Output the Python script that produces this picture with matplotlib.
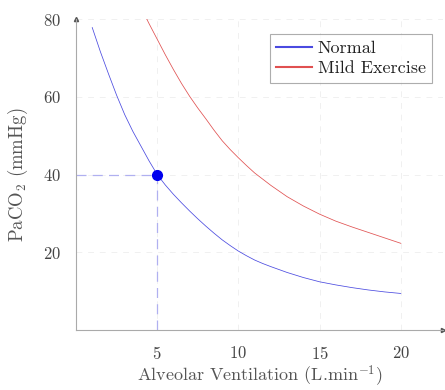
import matplotlib
matplotlib.use("Agg")
import matplotlib.pyplot as plt

plt.rcParams['font.family'] = ['cmr10', 'DejaVu Serif']
plt.rcParams['mathtext.fontset'] = 'cm'
plt.rcParams['axes.formatter.use_mathtext'] = True

# values
va_normal = [1, 1.5, 2, 2.5, 3, 3.5, 4, 4.5, 5, 5.5, 6, 6.5, 7, 7.5, 8, 8.5, 9, 9.5,
             10, 10.5, 11, 11.5, 12, 13, 14, 15, 16, 17, 18, 19, 20]
paco2_normal = [77.8, 71.6, 65.9, 60.4, 55.4, 51.1, 47.3, 43.5, 40.0, 37.3, 34.9,
                32.7, 30.6, 28.6, 26.7, 24.9, 23.2, 21.7, 20.3, 19.1, 18.0, 17.1,
                16.3, 14.8, 13.5, 12.4, 11.6, 10.9, 10.3, 9.8, 9.4]
va_exercise = [4, 4.5, 5, 5.5, 6, 6.5, 7, 7.5, 8, 8.5, 9, 9.5, 10, 10.5, 11,
               12, 13, 14, 15, 16, 17, 18, 19, 20]
paco2_exercise = [83.0, 78.8, 74.8, 70.8, 67.0, 63.4, 60.1, 57.1, 54.3, 51.4,
                  48.7, 46.4, 44.3, 42.3, 40.4, 37.2, 34.3, 31.9, 29.8, 28.0,
                  26.5, 25.1, 23.7, 22.3]
marker_va = 5
marker_paco2 = 40

fig = plt.figure(figsize=(4.45, 3.9), dpi=100)
ax = fig.add_axes([76 / 445, 60 / 390, (443 - 76) / 445, (330 - 19) / 390])

ax.plot(va_normal, paco2_normal, color='#4a4ae0', lw=0.55, label='Normal')
ax.plot(va_exercise, paco2_exercise, color='#e05050', lw=0.55, label='Mild Exercise')

ax.plot([0, marker_va], [marker_paco2, marker_paco2], color='#b0b0f0', lw=0.9, dashes=(8, 5))
ax.plot([marker_va, marker_va], [0, marker_paco2], color='#b0b0f0', lw=0.9, dashes=(8, 5))
ax.plot([marker_va], [marker_paco2], 'o', color='#0000ee', ms=7, zorder=5)

ax.set_xlim(0, 22.6)
ax.set_ylim(0, 80)
ax.set_xticks([5, 10, 15, 20])
ax.set_yticks([20, 40, 60, 80])
ax.grid(True, color='#f0f0f0', lw=0.7, ls=(0, (6, 6)))
ax.set_axisbelow(True)
ax.tick_params(length=0, labelsize=12, colors='#444444', pad=11)

for s in ['top', 'right']:
    ax.spines[s].set_visible(False)
for s in ['left', 'bottom']:
    ax.spines[s].set_color('#aaaaaa')
    ax.spines[s].set_linewidth(0.8)

# axis arrow heads
ax.plot(0, 1, '^', color='#555555', ms=3, transform=ax.transAxes, clip_on=False)
ax.plot(1, 0, '>', color='#555555', ms=3, transform=ax.transAxes, clip_on=False)

ax.set_xlabel('Alveolar Ventilation (L.min$^{-1}$)', fontsize=13, color='#555555', labelpad=1)
ax.set_ylabel('PaCO$_2$ (mmHg)', fontsize=13.5, color='#555555', labelpad=9)

leg = ax.legend(loc='upper right', bbox_to_anchor=(0.995, 0.98), fontsize=13,
                frameon=True, fancybox=False, edgecolor='#999999',
                handlelength=2.0, borderpad=0.35, labelspacing=0.25, handletextpad=0.3)
leg.get_frame().set_linewidth(0.8)
for line in leg.get_lines():
    line.set_linewidth(1.5)
for t in leg.get_texts():
    t.set_color('#222222')

fig.savefig('out.png', dpi=100)
